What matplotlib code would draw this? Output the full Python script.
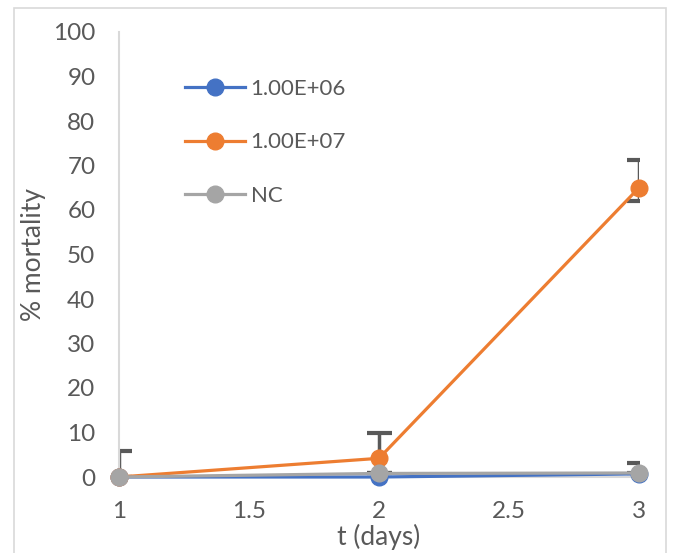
import numpy as np
import matplotlib.pyplot as plt
from matplotlib.patches import Rectangle

# data
days = [1, 2, 3]
low_dose = [0, 0, 0.7]         # 1.00E+06
high_dose = [0, 4.2, 65]       # 1.00E+07
nc = [0, 0.8, 0.9]             # NC
high_err_lo = [5.8, 5.7, 3.0]
high_err_hi = [5.8, 5.7, 6.2]
nc_err_lo = [0, 0, 0]
nc_err_hi = [0, 0, 2.2]
labels = ["1.00E+06", "1.00E+07", "NC"]
colors = ["#4472C4", "#ED7D31", "#A5A5A5"]

txt = "#595959"
plt.rcParams['font.family'] = ['Lato', 'DejaVu Sans']

fig = plt.figure(figsize=(6.74, 5.53), dpi=100)
ax = fig.add_axes([119/674, 76/553, 520/674, 445/553])

# outer chart border
fig.patches.append(Rectangle((14/674, -0.1), 652/674, (545/553) + 0.1,
                             transform=fig.transFigure, fill=False,
                             edgecolor="#d9d9d9", linewidth=1.2))

ebar = dict(fmt='none', ecolor=txt, elinewidth=2.5, capsize=9, capthick=3, zorder=2)
ax.errorbar(days, high_dose, yerr=[high_err_lo, high_err_hi], **ebar)
ax.errorbar(days, nc, yerr=[nc_err_lo, nc_err_hi], **ebar)

series = [low_dose, high_dose, nc]
for i, (vals, lab, c) in enumerate(zip(series, labels, colors)):
    ax.plot(days, vals, color=c, lw=2.3, marker='o', markersize=12,
            label=lab, zorder=3 + i, clip_on=False)

ax.set_xlim(1, 3)
ax.set_ylim(0, 100)
ax.set_xticks(np.arange(1, 3.01, 0.5))
ax.set_xticklabels(["1", "1.5", "2", "2.5", "3"])
ax.set_yticks(np.arange(0, 101, 10))

for s in ["top", "right"]:
    ax.spines[s].set_visible(False)
for s in ["left", "bottom"]:
    ax.spines[s].set_color("#d9d9d9")
    ax.spines[s].set_linewidth(1.5)

ax.tick_params(axis='both', length=0, labelsize=17.5, labelcolor=txt)
ax.tick_params(axis='y', pad=17)
ax.tick_params(axis='x', pad=17)

ax.set_ylabel("% mortality", fontsize=19, color=txt, labelpad=5)
ax.set_xlabel("t (days)", fontsize=19, color=txt, labelpad=2)

ax.legend(loc='upper left', bbox_to_anchor=(0.11, 0.914), borderaxespad=0,
          frameon=False, fontsize=16, labelcolor=txt, handlelength=2.7,
          handletextpad=0.25, labelspacing=1.5)

fig.savefig("out.png", dpi=100)
